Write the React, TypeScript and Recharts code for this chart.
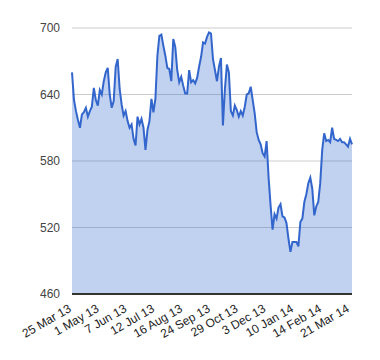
import { Area, AreaChart, CartesianGrid, XAxis, YAxis } from "recharts";

const dateLabels = [
  "25 Mar 13",
  "1 May 13",
  "7 Jun 13",
  "12 Jul 13",
  "16 Aug 13",
  "24 Sep 13",
  "29 Oct 13",
  "3 Dec 13",
  "10 Jan 14",
  "14 Feb 14",
  "21 Mar 14",
];

const yTicks = [460, 520, 580, 640, 700];

// closing values, roughly every other trading day
const prices = [
  660, 635, 625, 617, 610, 622, 624, 628, 620, 625, 629, 646, 635, 630, 644, 640,
  652, 660, 664, 640, 628, 634, 665, 672, 645, 631, 621, 625, 616, 610, 613, 600,
  594, 620, 613, 618, 610, 590, 608, 616, 636, 624, 636, 675, 693, 694, 684, 675,
  664, 663, 652, 690, 683, 662, 651, 656, 648, 641, 641, 662, 651, 653, 650, 655,
  665, 674, 687, 686, 692, 696, 695, 672, 662, 652, 665, 673, 612, 645, 667, 660,
  625, 621, 630, 626, 620, 625, 621, 629, 640, 641, 647, 635, 623, 606, 599, 595,
  587, 584, 598, 565, 540, 518, 532, 528, 538, 541, 530, 529, 524, 510, 498, 507,
  507, 507, 503, 525, 528, 543, 550, 560, 565, 555, 531, 539, 543, 560, 590, 605,
  598, 599, 597, 610, 600, 599, 598, 600, 597, 597, 595, 593, 600, 595,
];

const STEP = 14;

const data = prices.map((value, i) => ({ i, value }));

function DateTick(props: any) {
  const { x, y, payload } = props;
  const idx = payload.value;
  if (idx % STEP !== 0) return null;
  const ty = y + 9;
  return (
    <text
      x={x}
      y={ty}
      transform={`rotate(-30 ${x} ${ty})`}
      textAnchor="end"
      fontSize={12}
      fill="#222"
    >
      {dateLabels[idx / STEP]}
    </text>
  );
}

export default function App() {
  return (
    <div
      style={{
        position: "absolute",
        left: 0,
        top: 0,
        fontFamily: "Arial, 'Liberation Sans', sans-serif",
      }}
    >
      <AreaChart
        width={380}
        height={360}
        data={data}
        margin={{ top: 28, right: 28, left: 0, bottom: 0 }}
      >
        <CartesianGrid vertical={false} stroke="#cccccc" />
        <XAxis
          dataKey="i"
          interval={STEP - 1}
          height={66}
          tick={<DateTick />}
          tickLine={false}
          axisLine={{ stroke: "#333", strokeWidth: 2 }}
        />
        <YAxis
          domain={[460, 700]}
          ticks={yTicks}
          width={72}
          tickLine={false}
          axisLine={false}
          tickSize={0}
          tickMargin={12}
          tick={{ fontSize: 12, fill: "#444" }}
        />
        <Area
          type="linear"
          dataKey="value"
          stroke="#3366cc"
          strokeWidth={2}
          fill="#3366cc"
          fillOpacity={0.3}
          isAnimationActive={false}
          dot={false}
          activeDot={false}
        />
      </AreaChart>
    </div>
  );
}
